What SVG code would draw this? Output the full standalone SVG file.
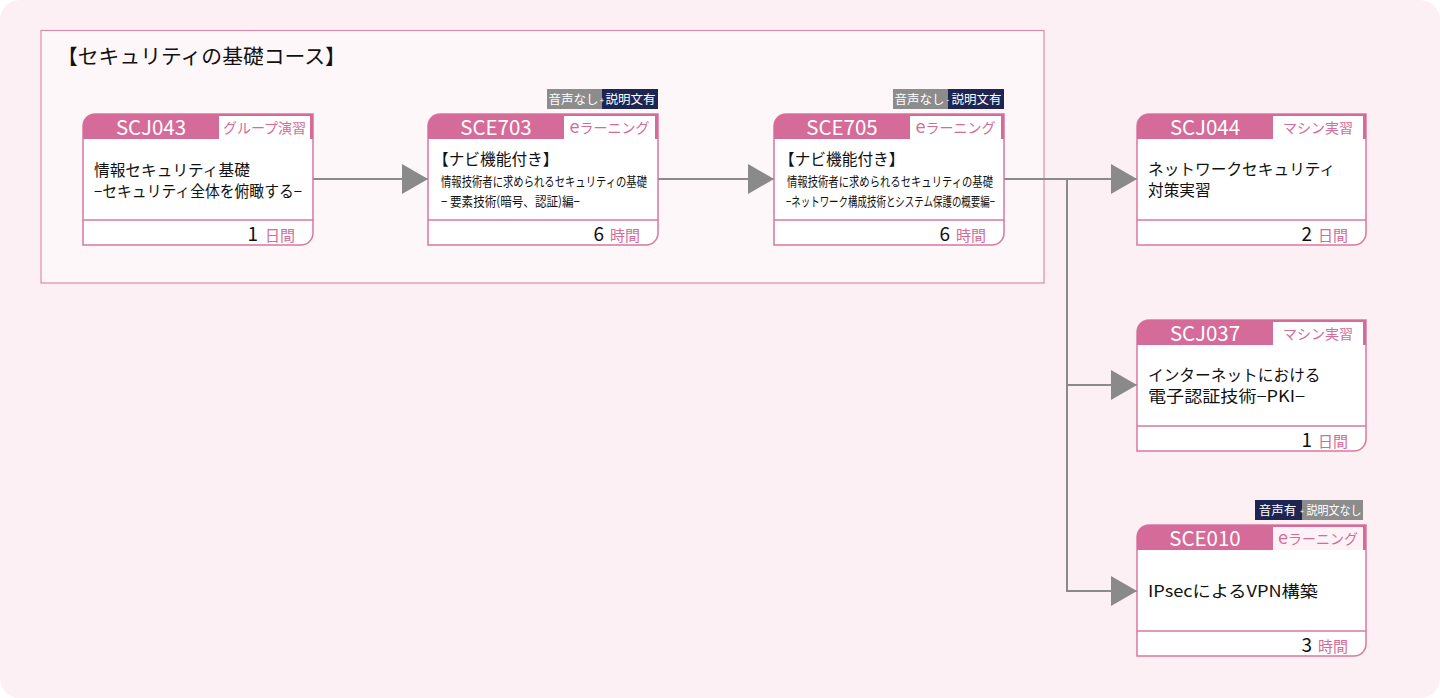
<svg xmlns="http://www.w3.org/2000/svg" width="1440" height="698" viewBox="0 0 1440 698">
<defs>
<style>
.t{font-family:"Noto Sans CJK JP","Noto Sans",sans-serif}
.card{fill:#fff;stroke:#d9779f;stroke-width:1.5}
.hdr{fill:#d56b98}
.lbl{fill:#fff}
.code{fill:#fff;font-size:20.5px;text-anchor:middle}
.ltx{fill:#d56b98;font-size:14px;text-anchor:middle}
.body{fill:#111;font-size:15.7px}
.sm{fill:#111;font-size:13px}
.num{fill:#111;font-size:19px;text-anchor:end}
.unit{fill:#d56b98;font-size:15px;text-anchor:end}
.div{stroke:#d9779f;stroke-width:1.5}
.bg{fill:#8c8c8c}
.bn{fill:#1d2550}
.btx{fill:#fff;font-size:12.5px;text-anchor:middle}
.con{stroke:#8a8a8a;stroke-width:2;fill:none}
</style>
<marker id="arr" markerUnits="userSpaceOnUse" markerWidth="26" markerHeight="30" refX="26" refY="15" orient="auto">
<path d="M0,0 L26,15 L0,30 Z" fill="#8a8a8a"/>
</marker>
</defs>
<rect x="0" y="0" width="1440" height="698" rx="20" fill="#fcf0f4"/>
<g id="course">
<rect x="41" y="30.5" width="1003" height="252.5" fill="#fdf7f9" stroke="#dc8bae" stroke-width="1.2"/>
<text class="t" x="57" y="64" font-size="20.8" fill="#111">【セキュリティの基礎コース】</text>
</g>
<g id="connectors">
<line class="con" x1="313" y1="179" x2="428" y2="179" marker-end="url(#arr)"/>
<line class="con" x1="657" y1="179" x2="774" y2="179" marker-end="url(#arr)"/>
<line class="con" x1="1003" y1="179" x2="1137" y2="179" marker-end="url(#arr)"/>
<polyline class="con" points="1067,179 1067,591"/>
<line class="con" x1="1067" y1="385" x2="1137" y2="385" marker-end="url(#arr)"/>
<line class="con" x1="1066" y1="591" x2="1137" y2="591" marker-end="url(#arr)"/>
</g>
<g id="SCJ043" transform="translate(83,114)">
<path class="card" d="M12,0 H230 V119 A12,12 0 0 1 218,131 H0 V12 A12,12 0 0 1 12,0 Z"/>
<path class="hdr" d="M0,25 V12 A12,12 0 0 1 12,0 H230 V25 Z"/>
<rect class="lbl" x="136" y="2" width="91" height="23"/>
<text class="t code" x="68" y="20.5">SCJ043</text>
<text class="t ltx" x="181.5" y="19">グループ演習</text>
<text class="t body" x="11" y="62">情報セキュリティ基礎</text>
<text class="t body" x="11" y="83" textLength="208" lengthAdjust="spacingAndGlyphs">−セキュリティ全体を俯瞰する−</text>
<line class="div" x1="0" y1="106" x2="230" y2="106"/>
<text class="t num" x="175" y="127">1</text>
<text class="t unit" x="212" y="127">日間</text>
</g>
<g id="SCE703" transform="translate(428,114)">
<rect class="bg" x="119" y="-25" width="55" height="20"/>
<rect class="bn" x="174" y="-25" width="56" height="20"/>
<text class="t btx" x="145.5" y="-10">音声なし</text>
<text class="t btx" x="202.5" y="-10">説明文有</text>
<text class="t" x="174" y="-11" font-size="8" fill="#fff" text-anchor="middle">+</text>
<path class="card" d="M12,0 H230 V119 A12,12 0 0 1 218,131 H0 V12 A12,12 0 0 1 12,0 Z"/>
<path class="hdr" d="M0,25 V12 A12,12 0 0 1 12,0 H230 V25 Z"/>
<rect class="lbl" x="136" y="2" width="91" height="23"/>
<text class="t code" x="68" y="20.5">SCE703</text>
<text class="t ltx" x="181.5" y="19"><tspan font-size="18">e</tspan>ラーニング</text>
<text class="t body" x="5" y="51">【ナビ機能付き】</text>
<text class="t sm" x="13" y="72" textLength="206" lengthAdjust="spacingAndGlyphs">情報技術者に求められるセキュリティの基礎</text>
<text class="t sm" x="13" y="92" textLength="139" lengthAdjust="spacingAndGlyphs">− 要素技術(暗号、認証)編−</text>
<line class="div" x1="0" y1="106" x2="230" y2="106"/>
<text class="t num" x="176" y="127">6</text>
<text class="t unit" x="212" y="127">時間</text>
</g>
<g id="SCE705" transform="translate(774,114)">
<rect class="bg" x="119" y="-25" width="55" height="20"/>
<rect class="bn" x="174" y="-25" width="56" height="20"/>
<text class="t btx" x="145.5" y="-10">音声なし</text>
<text class="t btx" x="202.5" y="-10">説明文有</text>
<text class="t" x="174" y="-11" font-size="8" fill="#fff" text-anchor="middle">-</text>
<path class="card" d="M12,0 H230 V119 A12,12 0 0 1 218,131 H0 V12 A12,12 0 0 1 12,0 Z"/>
<path class="hdr" d="M0,25 V12 A12,12 0 0 1 12,0 H230 V25 Z"/>
<rect class="lbl" x="136" y="2" width="91" height="23"/>
<text class="t code" x="68" y="20.5">SCE705</text>
<text class="t ltx" x="181.5" y="19"><tspan font-size="18">e</tspan>ラーニング</text>
<text class="t body" x="5" y="51">【ナビ機能付き】</text>
<text class="t sm" x="13" y="72" textLength="206" lengthAdjust="spacingAndGlyphs">情報技術者に求められるセキュリティの基礎</text>
<text class="t sm" x="12" y="92" textLength="209" lengthAdjust="spacingAndGlyphs">−ネットワーク構成技術とシステム保護の概要編−</text>
<line class="div" x1="0" y1="106" x2="230" y2="106"/>
<text class="t num" x="176" y="127">6</text>
<text class="t unit" x="212" y="127">時間</text>
</g>
<g id="SCJ044" transform="translate(1137,114)">
<path class="card" d="M12,0 H229 V119 A12,12 0 0 1 217,131 H0 V12 A12,12 0 0 1 12,0 Z"/>
<path class="hdr" d="M0,25 V12 A12,12 0 0 1 12,0 H229 V25 Z"/>
<rect class="lbl" x="136" y="2" width="90" height="23"/>
<text class="t code" x="68" y="20.5">SCJ044</text>
<text class="t ltx" x="181" y="19">マシン実習</text>
<text class="t body" x="11" y="61">ネットワークセキュリティ</text>
<text class="t body" x="11" y="82">対策実習</text>
<line class="div" x1="0" y1="106" x2="229" y2="106"/>
<text class="t num" x="175" y="127">2</text>
<text class="t unit" x="211" y="127">日間</text>
</g>
<g id="SCJ037" transform="translate(1137,320)">
<path class="card" d="M12,0 H229 V119 A12,12 0 0 1 217,131 H0 V12 A12,12 0 0 1 12,0 Z"/>
<path class="hdr" d="M0,25 V12 A12,12 0 0 1 12,0 H229 V25 Z"/>
<rect class="lbl" x="136" y="2" width="90" height="23"/>
<text class="t code" x="68" y="20.5">SCJ037</text>
<text class="t ltx" x="181" y="19">マシン実習</text>
<text class="t body" x="11" y="61">インターネットにおける</text>
<text class="t body" x="11" y="82" textLength="157" lengthAdjust="spacingAndGlyphs">電子認証技術−PKI−</text>
<line class="div" x1="0" y1="106" x2="229" y2="106"/>
<text class="t num" x="175" y="127">1</text>
<text class="t unit" x="211" y="127">日間</text>
</g>
<g id="SCE010" transform="translate(1137,525)">
<rect class="bn" x="118" y="-25" width="47" height="20"/>
<rect class="bg" x="165" y="-25" width="61" height="20"/>
<text class="t btx" x="140.5" y="-10">音声有</text>
<text class="t btx" x="197" y="-10" font-size="12" textLength="55" lengthAdjust="spacingAndGlyphs">説明文なし</text>
<text class="t" x="165" y="-11" font-size="7" fill="#fff" text-anchor="middle">+</text>
<path class="card" d="M12,0 H229 V119 A12,12 0 0 1 217,131 H0 V12 A12,12 0 0 1 12,0 Z"/>
<path class="hdr" d="M0,25 V12 A12,12 0 0 1 12,0 H229 V25 Z"/>
<rect x="136" y="2" width="90" height="23" fill="#fdf3f6"/>
<text class="t code" x="68" y="20.5">SCE010</text>
<text class="t ltx" x="181" y="19"><tspan font-size="18">e</tspan>ラーニング</text>
<text class="t body" x="11" y="72" textLength="170" lengthAdjust="spacingAndGlyphs">IPsecによるVPN構築</text>
<line class="div" x1="0" y1="106" x2="229" y2="106"/>
<text class="t num" x="175" y="127">3</text>
<text class="t unit" x="211" y="127">時間</text>
</g>
</svg>
